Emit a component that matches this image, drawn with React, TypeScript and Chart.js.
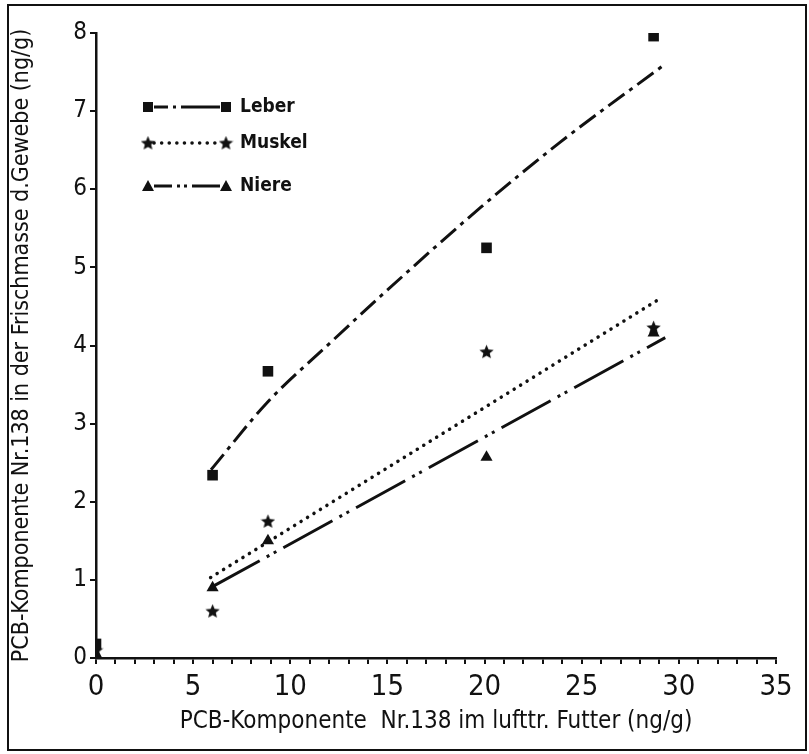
import React, { useEffect, useRef } from "react";
import { Chart, registerables } from "chart.js";

Chart.register(...registerables);

// ---- data ----
const feedX = [0, 6.0, 8.85, 20.1, 28.7];
const leberY = [0.18, 2.34, 3.67, 5.25, 7.96];
const muskelY = [0.1, 0.6, 1.75, 3.92, 4.23];
const niereY = [0.05, 0.9, 1.5, 2.57, 4.16];

const leberFitX = [5.92, 8.85, 12.04, 14.82, 19.81, 23.88, 29.23];
const leberFitY = [2.41, 3.28, 4.03, 4.67, 5.77, 6.6, 7.59];
const muskelFitX = [5.9, 28.9];
const muskelFitY = [1.03, 4.58];
const niereFitX = [5.9, 29.3];
const niereFitY = [0.9, 4.1];

const xTicks = [0, 5, 10, 15, 20, 25, 30, 35];
const yTicks = [0, 1, 2, 3, 4, 5, 6, 7, 8];
const seriesNames = ["Leber", "Muskel", "Niere"];
const xTitle = "PCB-Komponente  Nr.138 im lufttr. Futter (ng/g)";
const yTitle = "PCB-Komponente Nr.138 in der Frischmasse d.Gewebe (ng/g)";

const FONT = "'DejaVu Sans Condensed', 'Liberation Sans Narrow', sans-serif";
const INK = "#111";

const leberDash = [20, 6, 4, 6];
const muskelDash = [0.1, 7.5];
const niereDash = [56, 8, 3, 5, 3, 8];

function makeStar(size: number): HTMLCanvasElement {
  const c = document.createElement("canvas");
  c.width = size;
  c.height = size;
  const ctx = c.getContext("2d")!;
  const cx = size / 2;
  const cy = size / 2 + 0.5;
  const R = size / 2;
  const r = R * 0.45;
  ctx.beginPath();
  for (let i = 0; i < 10; i++) {
    const a = -Math.PI / 2 + (i * Math.PI) / 5;
    const rad = i % 2 === 0 ? R : r;
    const px = cx + rad * Math.cos(a);
    const py = cy + rad * Math.sin(a);
    if (i === 0) ctx.moveTo(px, py);
    else ctx.lineTo(px, py);
  }
  ctx.closePath();
  ctx.fillStyle = INK;
  ctx.fill();
  return c;
}

const zip = (xs: number[], ys: number[]) => xs.map((x, i) => ({ x, y: ys[i] }));

export default function App() {
  const ref = useRef<HTMLCanvasElement>(null);

  useEffect(() => {
    const canvas = ref.current!;
    const star = makeStar(15);

    const framePlugin = {
      id: "frame",
      afterDraw(chart: any) {
        const ctx = chart.ctx;
        ctx.save();
        ctx.strokeStyle = INK;
        ctx.lineWidth = 2;
        ctx.strokeRect(8, 5, 798, 745);
        ctx.restore();
      },
    };

    const legendPlugin = {
      id: "customLegend",
      afterDraw(chart: any) {
        const ctx = chart.ctx;
        const rows = [
          { y: 107, dash: [14, 5, 3, 5, 60], marker: "rect", w: 3, cap: "butt" },
          { y: 143, dash: muskelDash, marker: "star", w: 3.5, cap: "round" },
          { y: 186, dash: [18, 5, 3, 4, 3, 5, 60], marker: "tri", w: 3, cap: "butt" },
        ];
        const x0 = 148;
        const x1 = 226;
        ctx.save();
        rows.forEach((row, i) => {
          ctx.strokeStyle = INK;
          ctx.lineWidth = row.w;
          ctx.lineCap = row.cap;
          ctx.setLineDash(row.dash);
          ctx.beginPath();
          ctx.moveTo(x0 + 6, row.y);
          ctx.lineTo(x1 - 6, row.y);
          ctx.stroke();
          ctx.setLineDash([]);
          ctx.fillStyle = INK;
          [x0, x1].forEach((mx) => {
            if (row.marker === "rect") {
              ctx.fillRect(mx - 5, row.y - 5, 10, 10);
            } else if (row.marker === "star") {
              ctx.drawImage(star, mx - 7.5, row.y - 7.5);
            } else {
              ctx.beginPath();
              ctx.moveTo(mx, row.y - 6);
              ctx.lineTo(mx + 6, row.y + 5);
              ctx.lineTo(mx - 6, row.y + 5);
              ctx.closePath();
              ctx.fill();
            }
          });
          ctx.font = `bold 19px ${FONT}`;
          ctx.textBaseline = "middle";
          ctx.textAlign = "left";
          ctx.fillText(seriesNames[i], 240, row.y);
        });
        ctx.restore();
      },
    };

    const chart = new Chart(canvas, {
      type: "scatter",
      data: {
        datasets: [
          {
            label: seriesNames[0] + " Kurve",
            data: zip(leberFitX, leberFitY),
            showLine: true,
            borderColor: INK,
            borderWidth: 3,
            borderDash: leberDash,
            cubicInterpolationMode: "monotone",
            pointRadius: 0,
          } as any,
          {
            label: seriesNames[1] + " Kurve",
            data: zip(muskelFitX, muskelFitY),
            showLine: true,
            borderColor: INK,
            borderWidth: 3.5,
            borderDash: muskelDash,
            borderCapStyle: "round",
            pointRadius: 0,
          },
          {
            label: seriesNames[2] + " Kurve",
            data: zip(niereFitX, niereFitY),
            showLine: true,
            borderColor: INK,
            borderWidth: 3,
            borderDash: niereDash,
            pointRadius: 0,
          },
          {
            label: seriesNames[0],
            data: zip(feedX, leberY),
            pointStyle: "rect",
            pointRadius: 7.5,
            backgroundColor: INK,
            borderColor: INK,
            borderWidth: 0,
          },
          {
            label: seriesNames[1],
            data: zip(feedX, muskelY),
            pointStyle: star,
            pointRadius: 7,
          },
          {
            label: seriesNames[2],
            data: zip(feedX, niereY),
            pointStyle: "triangle",
            pointRadius: 7,
            backgroundColor: INK,
            borderColor: INK,
            borderWidth: 0,
          },
        ],
      },
      options: {
        responsive: false,
        animation: false,
        devicePixelRatio: 1,
        layout: { padding: { left: 0, right: 33, top: 33, bottom: 0 } },
        plugins: {
          legend: { display: false },
          tooltip: { enabled: false },
        },
        scales: {
          x: {
            type: "linear",
            min: 0,
            max: 35,
            afterFit(scale: any) {
              scale.height = 96;
            },
            afterBuildTicks(scale: any) {
              const t: any[] = [];
              for (let v = 0; v <= 35; v++) t.push({ value: v });
              scale.ticks = t;
            },
            ticks: {
              autoSkip: false,
              maxRotation: 0,
              color: INK,
              font: { family: FONT, size: 29 },
              padding: 6,
              callback: (v: any) => (xTicks.includes(Number(v)) ? String(v) : ""),
            },
            grid: {
              drawOnChartArea: false,
              drawTicks: true,
              tickLength: 6,
              color: INK,
              lineWidth: 2,
            },
            border: { display: true, color: INK, width: 2.5 },
            title: {
              display: true,
              text: xTitle,
              color: INK,
              font: { family: FONT, size: 24 },
              padding: { top: 0, bottom: 18 },
            },
          },
          y: {
            type: "linear",
            min: 0,
            max: 8,
            afterFit(scale: any) {
              scale.width = 96;
            },
            afterBuildTicks(scale: any) {
              scale.ticks = yTicks.map((v) => ({ value: v }));
            },
            ticks: {
              color: INK,
              font: { family: FONT, size: 24 },
              padding: 3,
            },
            grid: {
              drawOnChartArea: false,
              drawTicks: true,
              tickLength: 6,
              color: INK,
              lineWidth: 2,
            },
            border: { display: true, color: INK, width: 2.5 },
            title: {
              display: true,
              text: yTitle,
              color: INK,
              font: { family: FONT, size: 23 },
              padding: { top: 8, bottom: 0 },
            },
          },
        },
      },
      plugins: [framePlugin, legendPlugin],
    });

    return () => chart.destroy();
  }, []);

  return (
    <div style={{ position: "absolute", left: 0, top: 0, width: 809, height: 754, background: "#fff" }}>
      <canvas ref={ref} width={809} height={754} />
    </div>
  );
}
